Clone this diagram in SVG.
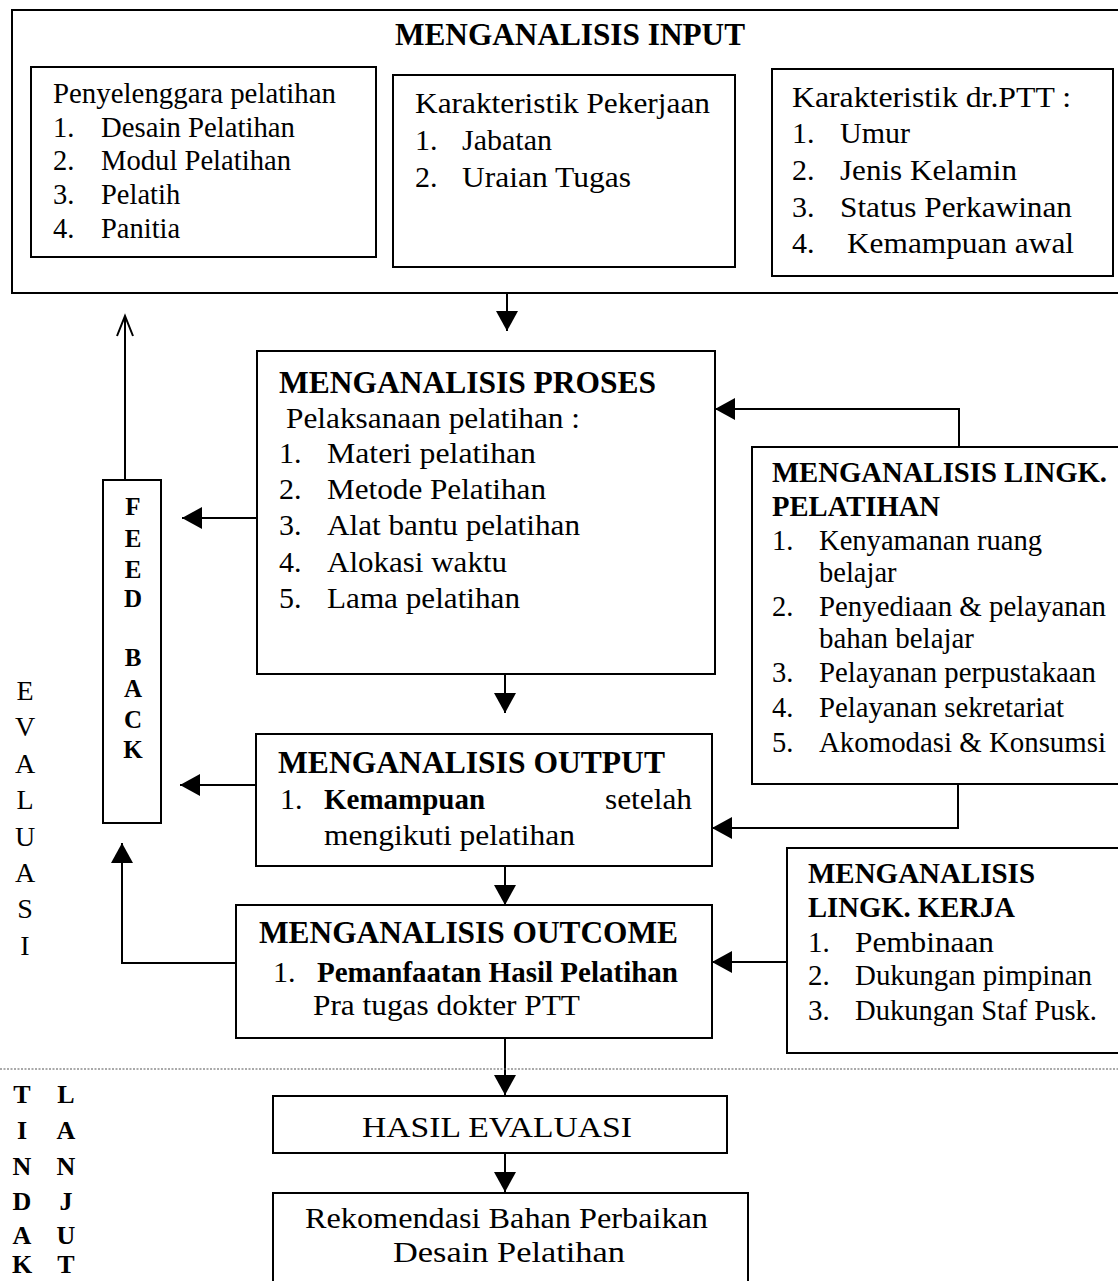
<svg xmlns="http://www.w3.org/2000/svg" width="1118" height="1281" viewBox="0 0 1118 1281">
<defs>
<marker id="ah" markerUnits="userSpaceOnUse" markerWidth="21" markerHeight="22" refX="20" refY="11" orient="auto"><path d="M0,0 L20,11 L0,22 z" fill="#000"/></marker>
<marker id="open" markerUnits="userSpaceOnUse" markerWidth="22" markerHeight="22" refX="20" refY="11" orient="auto" overflow="visible"><path d="M0,3 L20,11 L0,19" fill="none" stroke="#000" stroke-width="2"/></marker>
</defs>
<style>
.box{fill:#fff;stroke:#000;stroke-width:2}
.t{font-family:"Liberation Serif","Times New Roman",serif;fill:#000}
.b{font-weight:bold}
.c{fill:none;stroke:#000;stroke-width:2}
.a{marker-end:url(#ah)}
.m{text-anchor:middle}
</style>
<rect width="1118" height="1281" fill="#fff"/>

<g id="input">
<rect class="box" x="12" y="10" width="1120" height="283"/>
<text class="t b" x="395" y="45" font-size="31" textLength="350" lengthAdjust="spacingAndGlyphs">MENGANALISIS INPUT</text>
<g id="penyelenggara">
<rect class="box" x="31" y="67" width="345" height="190"/>
<text class="t" font-size="28.5" x="53" y="103" textLength="283" lengthAdjust="spacingAndGlyphs">Penyelenggara pelatihan</text>
<text class="t" font-size="28.5" x="53" y="137">1.</text>
<text class="t" font-size="28.5" x="101" y="137" textLength="194" lengthAdjust="spacingAndGlyphs">Desain Pelatihan</text>
<text class="t" font-size="28.5" x="53" y="170">2.</text>
<text class="t" font-size="28.5" x="101" y="170" textLength="190" lengthAdjust="spacingAndGlyphs">Modul Pelatihan</text>
<text class="t" font-size="28.5" x="53" y="204">3.</text>
<text class="t" font-size="28.5" x="101" y="204">Pelatih</text>
<text class="t" font-size="28.5" x="53" y="238">4.</text>
<text class="t" font-size="28.5" x="101" y="238">Panitia</text>
</g>
<g id="pekerjaan">
<rect class="box" x="393" y="75" width="342" height="192"/>
<text class="t" font-size="30" x="415" y="113" textLength="295" lengthAdjust="spacingAndGlyphs">Karakteristik Pekerjaan</text>
<text class="t" font-size="30" x="415" y="150">1.</text>
<text class="t" font-size="30" x="462" y="150">Jabatan</text>
<text class="t" font-size="30" x="415" y="187">2.</text>
<text class="t" font-size="30" x="462" y="187" textLength="169" lengthAdjust="spacingAndGlyphs">Uraian Tugas</text>
</g>
<g id="dokter">
<rect class="box" x="772" y="69" width="341" height="207"/>
<text class="t" font-size="30" x="792" y="107" textLength="279" lengthAdjust="spacingAndGlyphs">Karakteristik dr.PTT :</text>
<text class="t" font-size="30" x="792" y="143">1.</text>
<text class="t" font-size="30" x="840" y="143">Umur</text>
<text class="t" font-size="30" x="792" y="180">2.</text>
<text class="t" font-size="30" x="840" y="180" textLength="177" lengthAdjust="spacingAndGlyphs">Jenis Kelamin</text>
<text class="t" font-size="30" x="792" y="217">3.</text>
<text class="t" font-size="30" x="840" y="217" textLength="232" lengthAdjust="spacingAndGlyphs">Status Perkawinan</text>
<text class="t" font-size="30" x="792" y="253">4.</text>
<text class="t" font-size="30" x="847" y="253" textLength="227" lengthAdjust="spacingAndGlyphs">Kemampuan awal</text>
</g>
</g>

<g id="proses">
<rect class="box" x="257" y="351" width="458" height="323"/>
<text class="t b" font-size="31" x="279" y="393" textLength="377" lengthAdjust="spacingAndGlyphs">MENGANALISIS PROSES</text>
<text class="t" font-size="30" x="286" y="428" textLength="294" lengthAdjust="spacingAndGlyphs">Pelaksanaan pelatihan :</text>
<text class="t" font-size="30" x="279" y="463">1.</text>
<text class="t" font-size="30" x="327" y="463" textLength="209" lengthAdjust="spacingAndGlyphs">Materi pelatihan</text>
<text class="t" font-size="30" x="279" y="499">2.</text>
<text class="t" font-size="30" x="327" y="499" textLength="219" lengthAdjust="spacingAndGlyphs">Metode Pelatihan</text>
<text class="t" font-size="30" x="279" y="535">3.</text>
<text class="t" font-size="30" x="327" y="535" textLength="253" lengthAdjust="spacingAndGlyphs">Alat bantu pelatihan</text>
<text class="t" font-size="30" x="279" y="572">4.</text>
<text class="t" font-size="30" x="327" y="572" textLength="180" lengthAdjust="spacingAndGlyphs">Alokasi waktu</text>
<text class="t" font-size="30" x="279" y="608">5.</text>
<text class="t" font-size="30" x="327" y="608" textLength="193" lengthAdjust="spacingAndGlyphs">Lama pelatihan</text>
</g>

<g id="lingk-pelatihan">
<rect class="box" x="752" y="447" width="373" height="337"/>
<text class="t b" font-size="29" x="772" y="482" textLength="335" lengthAdjust="spacingAndGlyphs">MENGANALISIS LINGK.</text>
<text class="t b" font-size="29" x="772" y="516" textLength="168" lengthAdjust="spacingAndGlyphs">PELATIHAN</text>
<text class="t" font-size="28.5" x="772" y="550">1.</text>
<text class="t" font-size="28.5" x="819" y="550" textLength="223" lengthAdjust="spacingAndGlyphs">Kenyamanan ruang</text>
<text class="t" font-size="28.5" x="819" y="582">belajar</text>
<text class="t" font-size="28.5" x="772" y="616">2.</text>
<text class="t" font-size="28.5" x="819" y="616" textLength="287" lengthAdjust="spacingAndGlyphs">Penyediaan &amp; pelayanan</text>
<text class="t" font-size="28.5" x="819" y="648" textLength="155" lengthAdjust="spacingAndGlyphs">bahan belajar</text>
<text class="t" font-size="28.5" x="772" y="682">3.</text>
<text class="t" font-size="28.5" x="819" y="682" textLength="277" lengthAdjust="spacingAndGlyphs">Pelayanan perpustakaan</text>
<text class="t" font-size="28.5" x="772" y="717">4.</text>
<text class="t" font-size="28.5" x="819" y="717" textLength="245" lengthAdjust="spacingAndGlyphs">Pelayanan sekretariat</text>
<text class="t" font-size="28.5" x="772" y="752">5.</text>
<text class="t" font-size="28.5" x="819" y="752" textLength="287" lengthAdjust="spacingAndGlyphs">Akomodasi &amp; Konsumsi</text>
</g>

<g id="output">
<rect class="box" x="256" y="734" width="456" height="132"/>
<text class="t b" font-size="31" x="278" y="773" textLength="387" lengthAdjust="spacingAndGlyphs">MENGANALISIS OUTPUT</text>
<text class="t" font-size="30" x="280" y="809">1.</text>
<text class="t b" font-size="30" x="324" y="809" textLength="161" lengthAdjust="spacingAndGlyphs">Kemampuan</text>
<text class="t" font-size="30" x="605" y="809" textLength="87" lengthAdjust="spacingAndGlyphs">setelah</text>
<text class="t" font-size="30" x="324" y="845" textLength="251" lengthAdjust="spacingAndGlyphs">mengikuti pelatihan</text>
</g>

<g id="outcome">
<rect class="box" x="236" y="905" width="476" height="133"/>
<text class="t b" font-size="31" x="259" y="943" textLength="419" lengthAdjust="spacingAndGlyphs">MENGANALISIS OUTCOME</text>
<text class="t" font-size="30" x="273" y="982">1.</text>
<text class="t b" font-size="30" x="317" y="982" textLength="361" lengthAdjust="spacingAndGlyphs">Pemanfaatan Hasil Pelatihan</text>
<text class="t" font-size="30" x="313" y="1015" textLength="267" lengthAdjust="spacingAndGlyphs">Pra tugas dokter PTT</text>
</g>

<g id="lingk-kerja">
<rect class="box" x="787" y="848" width="338" height="205"/>
<text class="t b" font-size="29" x="808" y="883" textLength="227" lengthAdjust="spacingAndGlyphs">MENGANALISIS</text>
<text class="t b" font-size="29" x="808" y="917" textLength="207" lengthAdjust="spacingAndGlyphs">LINGK. KERJA</text>
<text class="t" font-size="29" x="808" y="952">1.</text>
<text class="t" font-size="29" x="855" y="952" textLength="139" lengthAdjust="spacingAndGlyphs">Pembinaan</text>
<text class="t" font-size="29" x="808" y="985">2.</text>
<text class="t" font-size="29" x="855" y="985" textLength="237" lengthAdjust="spacingAndGlyphs">Dukungan pimpinan</text>
<text class="t" font-size="29" x="808" y="1020">3.</text>
<text class="t" font-size="29" x="855" y="1020" textLength="242" lengthAdjust="spacingAndGlyphs">Dukungan Staf Pusk.</text>
</g>

<g id="feedback">
<rect class="box" x="103" y="480" width="58" height="343"/>
<text class="t b m" font-size="25" x="133" y="515">F</text>
<text class="t b m" font-size="25" x="133" y="547">E</text>
<text class="t b m" font-size="25" x="133" y="578">E</text>
<text class="t b m" font-size="25" x="133" y="607">D</text>
<text class="t b m" font-size="25" x="133" y="666">B</text>
<text class="t b m" font-size="25" x="133" y="697">A</text>
<text class="t b m" font-size="25" x="133" y="728">C</text>
<text class="t b m" font-size="25" x="133" y="758">K</text>
</g>

<g id="hasil">
<rect class="box" x="273" y="1096" width="454" height="57"/>
<text class="t" font-size="30" x="362" y="1137" textLength="270" lengthAdjust="spacingAndGlyphs">HASIL EVALUASI</text>
</g>

<g id="rekomendasi">
<rect class="box" x="273" y="1193" width="475" height="100"/>
<text class="t" font-size="30" x="305" y="1228" textLength="403" lengthAdjust="spacingAndGlyphs">Rekomendasi Bahan Perbaikan</text>
<text class="t" font-size="30" x="393" y="1262" textLength="232" lengthAdjust="spacingAndGlyphs">Desain Pelatihan</text>
</g>

<g id="labels">
<text class="t m" font-size="28" x="25" y="700">E</text>
<text class="t m" font-size="28" x="25" y="736">V</text>
<text class="t m" font-size="28" x="25" y="773">A</text>
<text class="t m" font-size="28" x="25" y="809">L</text>
<text class="t m" font-size="28" x="25" y="846">U</text>
<text class="t m" font-size="28" x="25" y="882">A</text>
<text class="t m" font-size="28" x="25" y="918">S</text>
<text class="t m" font-size="28" x="25" y="955">I</text>
<text class="t b m" font-size="26" x="22" y="1103">T</text>
<text class="t b m" font-size="26" x="22" y="1139">I</text>
<text class="t b m" font-size="26" x="22" y="1175">N</text>
<text class="t b m" font-size="26" x="22" y="1210">D</text>
<text class="t b m" font-size="26" x="22" y="1244">A</text>
<text class="t b m" font-size="26" x="22" y="1273">K</text>
<text class="t b m" font-size="26" x="66" y="1103">L</text>
<text class="t b m" font-size="26" x="66" y="1139">A</text>
<text class="t b m" font-size="26" x="66" y="1175">N</text>
<text class="t b m" font-size="26" x="66" y="1210">J</text>
<text class="t b m" font-size="26" x="66" y="1244">U</text>
<text class="t b m" font-size="26" x="66" y="1273">T</text>
</g>

<g id="connectors">
<path class="c a" d="M507,293 V331"/>
<path class="c" d="M125,480 V316" marker-end="url(#open)"/>
<path class="c a" d="M257,518 H182"/>
<path class="c a" d="M256,785 H180"/>
<path class="c a" d="M236,963 H122 V843"/>
<path class="c a" d="M959,447 V409 H715"/>
<path class="c a" d="M958,784 V828 H712"/>
<path class="c a" d="M787,962 H712"/>
<path class="c a" d="M505,674 V713"/>
<path class="c a" d="M505,866 V905"/>
<path class="c a" d="M505,1038 V1095"/>
<path class="c a" d="M505,1153 V1192"/>
<path d="M0,1069 H1118" fill="none" stroke="#555" stroke-width="1.2" stroke-dasharray="2 1.5"/>
</g>
</svg>
